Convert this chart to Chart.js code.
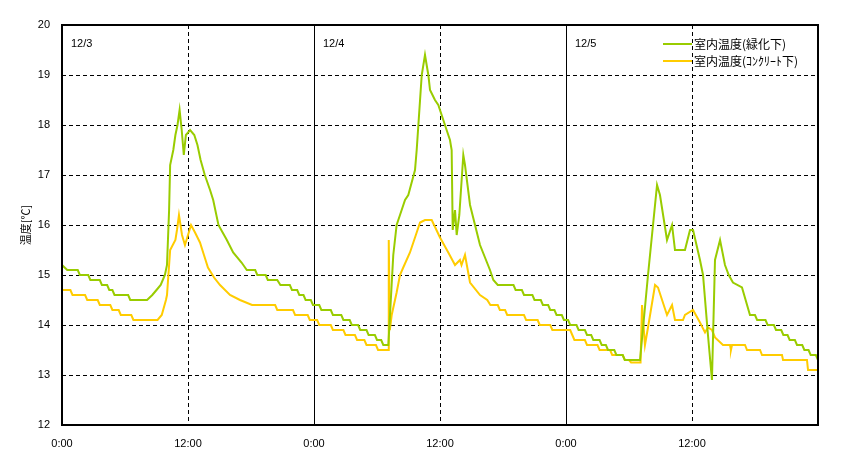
<!DOCTYPE html>
<html>
<head>
<meta charset="utf-8">
<script src="https://cdn.jsdelivr.net/npm/chart.js@4.4.1/dist/chart.umd.min.js"></script>
<style>
  html, body { margin: 0; background: #fff; }
</style>
</head>
<body>
<canvas id="tempChart" width="865" height="469"></canvas>
<script>
// readings: [hours since 12/3 0:00, temperature]
const greenReadings = [
  [0,15.2],[0.5,15.1],[1.5,15.1],[1.7,15.0],[2.5,15.0],[2.7,14.9],[3.6,14.9],[3.8,14.8],[4.3,14.8],[4.5,14.7],
  [4.8,14.7],[5.0,14.6],[6.3,14.6],[6.5,14.5],[8.1,14.5],[8.6,14.6],[9.0,14.7],[9.4,14.8],[9.8,15.0],[10.0,15.2],
  [10.2,16.3],[10.3,17.2],[10.6,17.5],[10.8,17.8],[11.0,18.0],[11.2,18.3],[11.4,17.9],[11.6,17.4],[11.8,17.8],[12.2,17.9],
  [12.6,17.8],[12.9,17.6],[13.2,17.3],[13.6,17.0],[14.1,16.7],[14.4,16.5],[14.9,16.0],[15.3,15.85],[15.7,15.7],[16.3,15.45],
  [17.1,15.25],[17.6,15.1],[18.4,15.1],[18.6,15.0],[19.4,15.0],[19.6,14.9],[20.5,14.9],[20.8,14.8],[21.7,14.8],[21.9,14.7],
  [22.4,14.7],[22.6,14.6],[23.0,14.6],[23.2,14.5],[23.7,14.5],[23.9,14.4],
  [24.5,14.4],[24.7,14.3],[25.6,14.3],[25.8,14.2],[26.6,14.2],[26.8,14.1],[27.4,14.1],[27.6,14.0],[28.2,14.0],[28.4,13.9],
  [29.0,13.9],[29.2,13.8],[29.8,13.8],[30.0,13.7],[30.4,13.7],[30.6,13.6],[31.08,13.6],[31.55,15.4],[31.87,16.0],[32.19,16.2],
  [32.67,16.5],[32.98,16.6],[33.62,17.1],[33.78,17.5],[33.94,18.0],[34.26,19.0],[34.57,19.4],[34.89,19.0],[35.05,18.7],[35.52,18.5],
  [35.84,18.4],[36.63,17.9],[36.95,17.7],[37.11,17.5],[37.21,15.9],[37.43,16.3],[37.59,15.8],[37.84,16.2],[38.22,17.4],[38.38,17.2],
  [38.86,16.4],[39.81,15.6],[40.76,15.1],[41.08,14.9],[41.5,14.8],[43.0,14.8],[43.2,14.7],[43.8,14.7],[44.0,14.6],[44.8,14.6],
  [45.0,14.5],[45.6,14.5],[45.8,14.4],[46.3,14.4],[46.5,14.3],[46.9,14.3],[47.1,14.2],[47.6,14.2],[47.8,14.1],[48.2,14.1],
  [48.4,14.0],[49.0,14.0],[49.2,13.9],[49.8,13.9],[50.0,13.8],[50.4,13.8],[50.6,13.7],[51.2,13.7],[51.4,13.6],[51.8,13.6],
  [52.0,13.5],[52.6,13.5],[52.8,13.4],[53.4,13.4],[53.6,13.3],[55.05,13.3],[55.81,15.0],[56.67,16.8],[56.95,16.6],
  [57.62,15.7],[58.1,16.0],[58.38,15.5],[59.33,15.5],[59.81,15.9],[60.1,15.9],[60.76,15.3],[61.05,15.0],[61.52,13.8],[61.9,12.9],
  [62.19,15.3],[62.67,15.7],[63.14,15.2],[63.5,15.0],[63.9,14.85],[64.76,14.75],[65.52,14.2],[66.0,14.2],[66.2,14.1],[67.0,14.1],
  [67.2,14.0],[67.8,14.0],[68.0,13.9],[68.5,13.9],[68.7,13.8],[69.1,13.8],[69.3,13.7],[69.8,13.7],[70.0,13.6],[70.5,13.6],
  [70.7,13.5],[71.1,13.5],[71.3,13.4],[71.8,13.4],[72,13.3]
];

const concreteReadings = [
  [0,14.7],[0.8,14.7],[1.0,14.6],[2.2,14.6],[2.4,14.5],[3.4,14.5],[3.6,14.4],[4.6,14.4],[4.8,14.3],[5.4,14.3],
  [5.6,14.2],[6.6,14.2],[6.8,14.1],[9.1,14.1],[9.5,14.2],[9.9,14.5],[10.0,14.6],[10.3,15.5],[10.8,15.7],[10.95,15.9],
  [11.14,16.2],[11.43,15.8],[11.71,15.6],[12.29,16.0],[12.67,15.85],[13.14,15.65],[13.52,15.4],[13.9,15.15],[14.48,14.95],[15.05,14.8],
  [16.0,14.6],[16.95,14.5],[18.1,14.4],[20.3,14.4],[20.5,14.3],[22.0,14.3],[22.2,14.2],[23.4,14.2],[23.6,14.1],
  [24.3,14.1],[24.5,14.0],[25.6,14.0],[25.8,13.9],[26.8,13.9],[27.0,13.8],[27.9,13.8],[28.1,13.7],[28.8,13.7],[29.0,13.6],
  [29.9,13.6],[30.1,13.5],[31.05,13.5],[31.12,15.7],[31.22,13.9],[31.4,14.2],
  [31.87,14.65],[32.19,15.0],[32.5,15.15],[33.14,15.45],[33.62,15.75],[34.1,16.05],[34.57,16.1],[35.21,16.1],[36.0,15.75],[36.79,15.45],
  [37.43,15.2],[37.9,15.3],[38.05,15.2],[38.38,15.4],[38.86,14.85],[39.81,14.6],[40.5,14.5],[40.8,14.4],[41.5,14.4],[41.7,14.3],
  [42.2,14.3],[42.4,14.2],[44.0,14.2],[44.2,14.1],[45.3,14.1],[45.5,14.0],[46.5,14.0],[46.7,13.9],[48.4,13.9],[48.6,13.8],
  [48.8,13.7],[49.8,13.7],[50.0,13.6],[51.0,13.6],[51.2,13.5],[52.2,13.5],[52.4,13.4],[53.4,13.4],[53.6,13.3],[54.0,13.3],
  [54.2,13.25],[55.1,13.25],[55.24,14.4],[55.52,13.6],
  [55.81,13.95],[56.48,14.8],[56.76,14.75],[57.62,14.2],[58.1,14.4],[58.38,14.1],[59.14,14.1],[59.33,14.2],[60.1,14.3],[60.76,14.05],
  [61.24,13.85],[61.52,13.95],[61.9,13.9],[62.19,13.75],[62.95,13.6],[63.62,13.6],[63.71,13.5],[63.81,13.6],[65.05,13.6],[65.24,13.5],
  [66.48,13.5],[66.67,13.4],[68.57,13.4],[68.67,13.3],[70.95,13.3],[71.05,13.1],[72,13.1]
];

const seriesNames = ["室内温度(緑化下)", "室内温度(ｺﾝｸﾘｰﾄ下)"];
const xTickLabels = ["0:00", "12:00"];
const dayLabels = ["12/3", "12/4", "12/5"];
const yTitle = "温度[℃]";

const GREEN = "#99cc00";
const YELLOW = "#ffcc00";
const FONT = "'Liberation Sans', Arial, sans-serif";
const JP_FONT = "'Noto Sans CJK JP', sans-serif";

// grid, frame, day labels, legend
const decorations = {
  id: "decorations",
  beforeDatasetsDraw(chart) {
    const { ctx, chartArea: a, scales: { x, y } } = chart;
    ctx.save();
    ctx.strokeStyle = "#000";
    ctx.lineWidth = 1;
    ctx.setLineDash([4, 3]);
    for (let v = 13; v < 20; v++) {
      const py = Math.round(y.getPixelForValue(v)) + 0.5;
      ctx.beginPath(); ctx.moveTo(a.left, py); ctx.lineTo(a.right, py); ctx.stroke();
    }
    for (let h = 12; h < 72; h += 24) {
      const px = Math.round(x.getPixelForValue(h)) + 0.5;
      ctx.beginPath(); ctx.moveTo(px, a.top); ctx.lineTo(px, a.bottom); ctx.stroke();
    }
    ctx.setLineDash([]);
    for (let h = 24; h < 72; h += 24) {
      const px = Math.round(x.getPixelForValue(h)) + 0.5;
      ctx.beginPath(); ctx.moveTo(px, a.top); ctx.lineTo(px, a.bottom); ctx.stroke();
    }
    ctx.restore();
  },
  afterDatasetsDraw(chart) {
    const { ctx, chartArea: a, scales: { x } } = chart;
    ctx.save();
    ctx.strokeStyle = "#000";
    ctx.lineWidth = 2;
    ctx.strokeRect(a.left, a.top, a.right - a.left, a.bottom - a.top);

    ctx.fillStyle = "#000";
    ctx.font = "11px " + FONT;
    ctx.textBaseline = "middle";
    dayLabels.forEach((d, i) => {
      ctx.fillText(d, x.getPixelForValue(i * 24) + 9, a.top + 19);
    });

    // legend
    const colors = [GREEN, YELLOW];
    ctx.font = "12px " + JP_FONT;
    seriesNames.forEach((name, i) => {
      const ly = a.top + 19 + i * 17;
      ctx.strokeStyle = colors[i];
      ctx.lineWidth = 2;
      ctx.beginPath(); ctx.moveTo(663, ly); ctx.lineTo(692, ly); ctx.stroke();
      ctx.fillStyle = "#000";
      ctx.fillText(name, 694, ly);
    });

    // y title
    ctx.translate(26, (a.top + a.bottom) / 2);
    ctx.rotate(-Math.PI / 2);
    ctx.textAlign = "center";
    ctx.font = "11px " + JP_FONT;
    ctx.fillText(yTitle, 0, 0);
    ctx.restore();
  }
};

new Chart(document.getElementById("tempChart"), {
  type: "line",
  data: {
    datasets: [
      {
        label: seriesNames[0],
        data: greenReadings.map(r => ({ x: r[0], y: r[1] })),
        borderColor: GREEN,
        borderWidth: 2,
        pointRadius: 0,
        tension: 0
      },
      {
        label: seriesNames[1],
        data: concreteReadings.map(r => ({ x: r[0], y: r[1] })),
        borderColor: YELLOW,
        borderWidth: 2,
        pointRadius: 0,
        tension: 0
      }
    ]
  },
  options: {
    responsive: false,
    animation: false,
    events: [],
    layout: { padding: { top: 25, right: 47, left: 0, bottom: 0 } },
    plugins: { legend: { display: false }, tooltip: { enabled: false } },
    scales: {
      x: {
        type: "linear",
        min: 0,
        max: 72,
        afterFit: s => { s.height = 44; },
        ticks: {
          stepSize: 12,
          autoSkip: false,
          maxRotation: 0,
          padding: 12,
          color: "#000",
          font: { family: FONT, size: 11 },
          callback: v => (v >= 72 ? "" : xTickLabels[(v / 12) % 2])
        },
        grid: { display: false, drawTicks: false },
        border: { display: false }
      },
      y: {
        min: 12,
        max: 20,
        afterFit: s => { s.width = 62; },
        ticks: {
          stepSize: 1,
          padding: 12,
          color: "#000",
          font: { family: FONT, size: 11 }
        },
        grid: { display: false, drawTicks: false },
        border: { display: false }
      }
    }
  },
  plugins: [decorations]
});
</script>
</body>
</html>
